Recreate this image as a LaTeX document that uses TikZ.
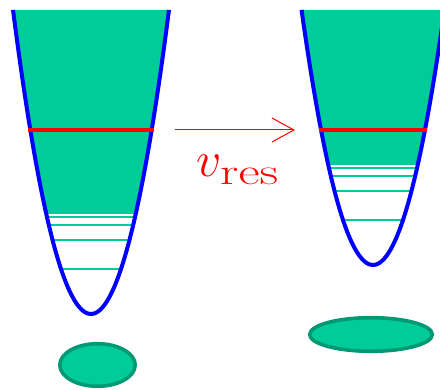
\documentclass[tikz,border=0pt]{standalone}
\usepackage{graphicx}
\usetikzlibrary{arrows.meta}
\definecolor{basin}{HTML}{00CC99}
\definecolor{basinedge}{HTML}{009973}

\begin{document}
\begin{tikzpicture}[
  x=0.5pt, y=0.5pt,
  wall/.style={blue, line width=2pt},
  level/.style={basin, line width=0.8pt},
  surface/.style={red, line width=2.2pt},
  drop/.style={draw=basinedge, fill=basin, line width=1.8pt},
  resarrow/.style={red, line width=0.5pt,
    -{Straight Barb[length=11pt,width=12pt]}}
]
\clip (0,0) rectangle (440,390);
% vertex x / vertex y / depth of the red level
\foreach \vx/\vy/\sd in {91/76/184, 373/125/135} {
  \pgfmathsetmacro\halftop{sqrt((380-\vy)/0.05)}
  \begin{scope}
    \clip (\vx-100,\vy+101) rectangle (\vx+100,400);
    \fill[basin] plot[smooth, samples=60, domain=-\halftop:\halftop]
      ({\vx+\x},{\vy+0.05*\x*\x}) -- cycle;
  \end{scope}
  \foreach \d in {101,97,89,74,45} {
    \pgfmathsetmacro\hw{sqrt(\d/0.05)+1}
    \draw[level] (\vx-\hw,\vy+\d) -- (\vx+\hw,\vy+\d);
  }
  \draw[wall] plot[smooth, samples=60, domain=-\halftop:\halftop]
    ({\vx+\x},{\vy+0.05*\x*\x});
  \pgfmathsetmacro\hs{sqrt(\sd/0.05)+2}
  \draw[surface] (\vx-\hs,\vy+\sd) -- (\vx+\hs,\vy+\sd);
}
\draw[drop] (97.5,25) ellipse [x radius=37.7, y radius=21.3];
\draw[drop] (371,55.5) ellipse [x radius=61.3, y radius=16.8];
\coordinate (shiftfrom) at (175,260);
\coordinate (shiftto) at (295,260);
\draw[resarrow] (shiftfrom) -- (shiftto);
\node[red, font=\fontsize{28}{34}\selectfont, anchor=base] (vres) at (238,213)
  {$v_{\scalebox{1.25}[0.9]{$\scriptstyle\mathrm{res}$}}$};
\end{tikzpicture}
\end{document}
